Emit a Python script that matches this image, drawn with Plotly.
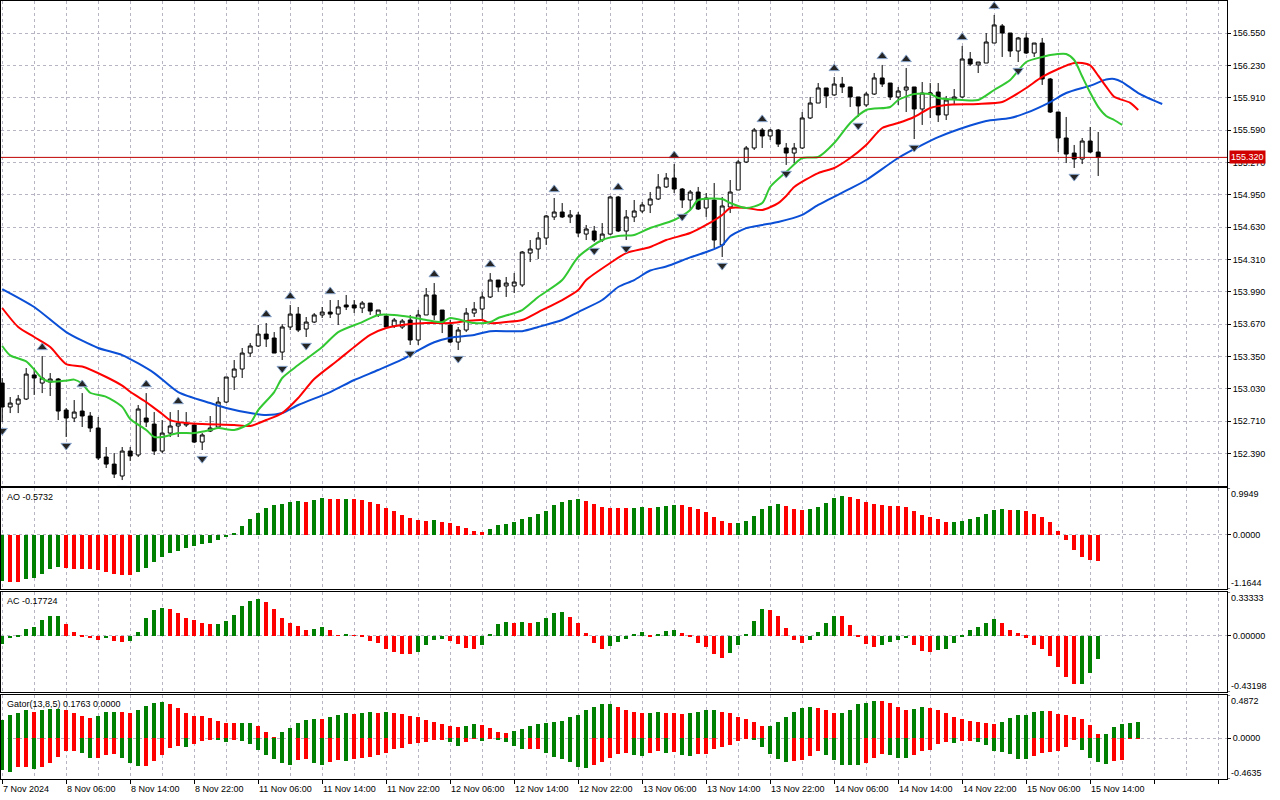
import plotly.graph_objects as go

# USDJPY-style H1 chart, bars from 7 Nov 22:00 to 15 Nov 15:00 (weekend skipped)
opens = [
    153.086, 152.849, 152.878, 152.928, 153.166, 153.086, 153.096, 153.126, 152.819, 152.740,
    152.809, 152.760, 152.641, 152.354, 152.284, 152.166, 152.413, 152.374, 152.740, 152.680,
    152.413, 152.591, 152.661, 152.671, 152.671, 152.502, 152.611, 152.651, 152.898, 153.146,
    153.225, 153.383, 153.453, 153.571, 153.532, 153.393, 153.641, 153.769, 153.621, 153.690,
    153.760, 153.789, 153.769, 153.859, 153.859, 153.829, 153.878, 153.760, 153.750, 153.651,
    153.641, 153.710, 153.512, 153.760, 153.958, 153.809, 153.661, 153.492, 153.611, 153.779,
    153.819, 153.938, 154.106, 154.047, 154.047, 154.057, 154.373, 154.413, 154.522, 154.730,
    154.779, 154.730, 154.750, 154.561, 154.591, 154.502, 154.561, 154.928, 154.591, 154.730,
    154.789, 154.849, 154.908, 155.027, 155.116, 155.007, 154.898, 154.977, 154.819, 154.898,
    154.453, 154.829, 154.997, 155.274, 155.413, 155.591, 155.532, 155.591, 155.413, 155.363,
    155.413, 155.710, 155.858, 156.007, 155.938, 156.046, 156.017, 155.918, 155.839, 155.947,
    156.106, 156.056, 155.918, 155.987, 156.017, 155.799, 155.947, 155.967, 155.740, 155.898,
    155.918, 156.294, 156.235, 156.254, 156.452, 156.621, 156.551, 156.373, 156.502, 156.353,
    156.452, 156.096, 155.769, 155.512, 155.363, 155.304, 155.482, 155.373,
]
highs = [
    153.136, 152.948, 152.968, 153.235, 153.235, 153.354, 153.185, 153.136, 152.839, 152.918,
    152.987, 152.799, 152.750, 152.453, 152.393, 152.453, 152.453, 152.869, 152.987, 152.799,
    152.720, 152.799, 152.819, 152.799, 152.690, 152.591, 152.760, 152.948, 153.146, 153.314,
    153.433, 153.482, 153.661, 153.680, 153.591, 153.670, 153.859, 153.839, 153.740, 153.779,
    153.839, 153.908, 153.908, 153.958, 153.908, 153.898, 153.878, 153.809, 153.760, 153.730,
    153.720, 153.760, 153.809, 154.027, 154.076, 153.809, 153.710, 153.641, 153.829, 153.888,
    153.987, 154.175, 154.106, 154.136, 154.175, 154.393, 154.502, 154.581, 154.750, 154.918,
    154.868, 154.799, 154.779, 154.651, 154.641, 154.670, 154.938, 154.938, 154.799, 154.898,
    154.878, 154.977, 155.155, 155.165, 155.254, 155.017, 154.997, 155.027, 154.967, 155.066,
    154.928, 155.096, 155.294, 155.433, 155.611, 155.611, 155.601, 155.601, 155.462, 155.462,
    155.769, 155.918, 156.056, 156.007, 156.116, 156.116, 156.017, 155.918, 155.967, 156.155,
    156.235, 156.056, 156.017, 156.205, 156.017, 156.066, 156.056, 156.056, 155.928, 155.997,
    156.423, 156.363, 156.264, 156.551, 156.730, 156.640, 156.551, 156.512, 156.551, 156.452,
    156.502, 156.106, 155.769, 155.720, 155.443, 155.512, 155.621, 155.571,
]
lows = [
    152.700, 152.789, 152.789, 152.918, 152.968, 152.987, 152.958, 152.720, 152.552, 152.700,
    152.651, 152.601, 152.324, 152.245, 152.146, 152.126, 152.314, 152.354, 152.651, 152.374,
    152.393, 152.552, 152.552, 152.651, 152.492, 152.423, 152.601, 152.651, 152.888, 153.017,
    153.136, 153.344, 153.443, 153.443, 153.383, 153.314, 153.611, 153.591, 153.542, 153.680,
    153.730, 153.730, 153.661, 153.809, 153.779, 153.779, 153.760, 153.740, 153.631, 153.631,
    153.621, 153.463, 153.463, 153.760, 153.710, 153.581, 153.482, 153.413, 153.591, 153.740,
    153.720, 153.928, 153.987, 153.938, 153.977, 154.037, 154.284, 154.314, 154.453, 154.700,
    154.720, 154.670, 154.532, 154.502, 154.482, 154.482, 154.552, 154.581, 154.502, 154.680,
    154.769, 154.769, 154.898, 155.017, 154.967, 154.819, 154.799, 154.799, 154.730, 154.423,
    154.334, 154.769, 154.997, 155.264, 155.393, 155.413, 155.492, 155.423, 155.245, 155.264,
    155.403, 155.700, 155.858, 155.809, 155.928, 155.957, 155.819, 155.720, 155.819, 155.938,
    156.017, 155.888, 155.839, 155.769, 155.502, 155.641, 155.710, 155.670, 155.690, 155.839,
    155.908, 156.225, 156.155, 156.254, 156.452, 156.314, 156.314, 156.264, 156.343, 156.314,
    156.037, 155.759, 155.373, 155.264, 155.215, 155.254, 155.363, 155.136,
]
closes = [
    152.849, 152.888, 152.928, 153.175, 153.136, 153.136, 153.126, 152.809, 152.740, 152.799,
    152.760, 152.641, 152.344, 152.284, 152.185, 152.413, 152.364, 152.829, 152.700, 152.413,
    152.591, 152.661, 152.690, 152.690, 152.502, 152.572, 152.641, 152.898, 153.146, 153.225,
    153.383, 153.453, 153.571, 153.522, 153.383, 153.641, 153.769, 153.611, 153.690, 153.760,
    153.789, 153.769, 153.839, 153.839, 153.829, 153.878, 153.799, 153.809, 153.641, 153.710,
    153.700, 153.512, 153.760, 153.958, 153.760, 153.680, 153.492, 153.611, 153.779, 153.819,
    153.938, 154.106, 154.037, 154.076, 154.086, 154.383, 154.413, 154.522, 154.740, 154.779,
    154.730, 154.750, 154.571, 154.611, 154.502, 154.561, 154.928, 154.591, 154.730, 154.789,
    154.849, 154.908, 155.027, 155.116, 155.007, 154.898, 154.977, 154.809, 154.918, 154.502,
    154.839, 154.977, 155.274, 155.413, 155.591, 155.532, 155.591, 155.452, 155.363, 155.413,
    155.710, 155.858, 156.007, 155.928, 156.046, 156.017, 155.918, 155.829, 155.947, 156.106,
    156.046, 155.918, 155.977, 156.017, 155.799, 155.957, 155.957, 155.740, 155.888, 155.918,
    156.294, 156.244, 156.264, 156.462, 156.631, 156.551, 156.373, 156.502, 156.353, 156.452,
    156.096, 155.769, 155.512, 155.353, 155.304, 155.482, 155.373, 155.320,
]
last_price = 155.320

# Bill Williams fractals (bar numbers)
up_fractals = [5, 10, 18, 22, 33, 36, 41, 54, 61, 69, 77, 84, 95, 104, 110, 113, 120, 124]
down_fractals = [0, 8, 15, 25, 35, 38, 51, 57, 74, 78, 85, 90, 98, 107, 114, 127, 134]

# Alligator lines (bar, price)
jaw_bars = [0, 4, 8, 12, 15, 19, 22, 26, 28, 31, 33, 35, 37, 41, 44, 47, 50, 52, 54, 56,
            59, 61, 65, 67, 70, 72, 75, 77, 79, 81, 83, 86, 88, 90, 91, 93, 95, 97, 100, 102,
            106, 108, 112, 115, 117, 121, 123, 126, 128, 131, 133, 136, 138, 139, 140, 142, 145]
jaw_vals = [154.017, 153.839, 153.591, 153.433, 153.363, 153.185, 152.997, 152.888, 152.839, 152.789,
            152.770, 152.789, 152.869, 152.997, 153.116, 153.215, 153.320, 153.410, 153.490, 153.535,
            153.562, 153.600, 153.600, 153.641, 153.710, 153.789, 153.908, 154.037, 154.106, 154.200,
            154.240, 154.330, 154.383, 154.450, 154.540, 154.620, 154.651, 154.680, 154.750, 154.849,
            155.010, 155.096, 155.314, 155.443, 155.520, 155.635, 155.680, 155.710, 155.760, 155.868,
            155.957, 156.030, 156.090, 156.096, 156.066, 155.957, 155.848]
teeth_bars = [0, 2, 4, 6, 8, 10, 13, 15, 16, 18, 20, 21, 23, 25, 29, 31, 33, 35, 37, 39,
              42, 44, 46, 48, 51, 53, 56, 58, 60, 61, 63, 65, 67, 70, 72, 73, 76, 78, 81, 83,
              86, 88, 90, 91, 93, 95, 97, 98, 99, 102, 104, 106, 108, 110, 112, 114, 116, 118, 122, 125,
              126, 128, 130, 132, 134, 135, 136, 137, 138, 139, 141, 142]
teeth_vals = [153.829, 153.641, 153.542, 153.443, 153.274, 153.250, 153.146, 153.060, 153.000, 152.898,
              152.780, 152.720, 152.690, 152.680, 152.671, 152.661, 152.720, 152.789, 152.938, 153.126,
              153.314, 153.443, 153.562, 153.631, 153.670, 153.680, 153.680, 153.700, 153.710, 153.680,
              153.690, 153.710, 153.789, 153.908, 154.007, 154.106, 154.274, 154.373, 154.433, 154.502,
              154.571, 154.651, 154.750, 154.819, 154.819, 154.799, 154.868, 154.938, 155.027, 155.165,
              155.215, 155.314, 155.443, 155.611, 155.660, 155.720, 155.809, 155.839, 155.848, 155.868,
              155.908, 156.007, 156.116, 156.195, 156.254, 156.254, 156.230, 156.130, 156.020, 155.920,
              155.860, 155.789]
lips_bars = [0, 1, 3, 4, 5, 6, 8, 9, 10, 11, 13, 15, 16, 18, 19, 20, 22, 24, 26, 27,
             29, 31, 32, 34, 35, 37, 40, 42, 45, 47, 49, 51, 53, 55, 56, 59, 61, 62, 65, 67,
             70, 72, 75, 77, 79, 81, 84, 86, 87, 90, 91, 93, 95, 96, 98, 100, 102, 104, 106, 108,
             111, 112, 114, 116, 117, 120, 122, 124, 126, 128, 130, 131, 133, 134, 135, 136, 137, 138, 139, 140]
lips_vals = [153.453, 153.360, 153.300, 153.220, 153.130, 153.100, 153.110, 153.120, 153.080, 152.990,
             152.950, 152.850, 152.730, 152.621, 152.552, 152.552, 152.591, 152.591, 152.621, 152.641,
             152.621, 152.690, 152.819, 152.997, 153.136, 153.264, 153.443, 153.591, 153.690, 153.760,
             153.760, 153.740, 153.710, 153.690, 153.730, 153.680, 153.690, 153.730, 153.809, 153.938,
             154.106, 154.334, 154.502, 154.542, 154.552, 154.621, 154.700, 154.799, 154.898, 154.908,
             154.868, 154.819, 154.868, 155.027, 155.175, 155.314, 155.324, 155.462, 155.660, 155.789,
             155.819, 155.888, 155.947, 155.947, 155.908, 155.888, 155.888, 155.987, 156.086, 156.264,
             156.314, 156.333, 156.343, 156.284, 156.120, 155.960, 155.820, 155.730, 155.690, 155.641]

ao = [
    -0.994, -1.008, -1.010, -0.943, -0.922, -0.835, -0.742, -0.684, -0.706, -0.727,
    -0.742, -0.745, -0.763, -0.792, -0.835, -0.871, -0.874, -0.799, -0.706, -0.583,
    -0.490, -0.403, -0.346, -0.295, -0.252, -0.209, -0.180, -0.115, -0.058, 0.043,
    0.180, 0.338, 0.454, 0.562, 0.626, 0.648, 0.698, 0.713, 0.705, 0.734,
    0.778, 0.770, 0.756, 0.765, 0.756, 0.734, 0.698, 0.648, 0.562, 0.504,
    0.414, 0.345, 0.310, 0.288, 0.310, 0.266, 0.245, 0.180, 0.137, 0.072,
    0.050, 0.115, 0.202, 0.223, 0.266, 0.331, 0.374, 0.439, 0.504, 0.634,
    0.698, 0.742, 0.763, 0.720, 0.655, 0.590, 0.569, 0.568, 0.567, 0.570,
    0.590, 0.569, 0.590, 0.612, 0.634, 0.632, 0.590, 0.547, 0.482, 0.374,
    0.288, 0.245, 0.250, 0.288, 0.396, 0.547, 0.612, 0.655, 0.612, 0.547,
    0.526, 0.547, 0.590, 0.677, 0.785, 0.828, 0.806, 0.763, 0.698, 0.655,
    0.634, 0.612, 0.610, 0.590, 0.504, 0.418, 0.374, 0.331, 0.266, 0.270,
    0.288, 0.331, 0.374, 0.439, 0.526, 0.540, 0.518, 0.520, 0.497, 0.432,
    0.367, 0.259, 0.086, -0.108, -0.324, -0.480, -0.540, -0.5732,
]
ac = [
    -0.064, -0.021, -0.005, 0.054, 0.062, 0.116, 0.147, 0.150, 0.085, 0.031,
    -0.013, -0.021, -0.031, -0.021, -0.044, -0.052, -0.039, 0.031, 0.131, 0.193,
    0.209, 0.201, 0.170, 0.131, 0.116, 0.100, 0.085, 0.087, 0.108, 0.155,
    0.224, 0.263, 0.278, 0.255, 0.201, 0.131, 0.100, 0.070, 0.039, 0.054,
    0.062, 0.039, 0.003, 0.015, -0.003, -0.013, -0.039, -0.059, -0.100, -0.124,
    -0.142, -0.144, -0.126, -0.075, -0.036, -0.028, -0.044, -0.064, -0.098, -0.106,
    -0.075, 0.010, 0.088, 0.103, 0.095, 0.103, 0.095, 0.103, 0.134, 0.173,
    0.180, 0.142, 0.095, 0.018, -0.059, -0.106, -0.082, -0.052, -0.028, 0.010,
    0.026, -0.005, 0.010, 0.034, 0.041, 0.018, -0.013, -0.059, -0.090, -0.144,
    -0.175, -0.137, -0.075, 0.010, 0.111, 0.204, 0.196, 0.149, 0.057, -0.036,
    -0.059, -0.036, 0.026, 0.095, 0.149, 0.148, 0.080, -0.013, -0.067, -0.090,
    -0.075, -0.052, -0.036, -0.021, -0.075, -0.121, -0.129, -0.113, -0.106, -0.059,
    -0.013, 0.041, 0.064, 0.095, 0.126, 0.100, 0.046, 0.021, -0.015, -0.072,
    -0.103, -0.157, -0.242, -0.320, -0.374, -0.372, -0.289, -0.17724,
]
gator_up = [
    0.202, 0.259, 0.289, 0.316, 0.300, 0.323, 0.324, 0.325, 0.323, 0.289,
    0.255, 0.232, 0.247, 0.293, 0.300, 0.299, 0.278, 0.316, 0.361, 0.392,
    0.407, 0.380, 0.335, 0.278, 0.255, 0.247, 0.224, 0.198, 0.167, 0.166,
    0.168, 0.169, 0.133, 0.065, 0.008, 0.072, 0.118, 0.175, 0.209, 0.221,
    0.220, 0.243, 0.266, 0.278, 0.277, 0.289, 0.290, 0.289, 0.290, 0.278,
    0.274, 0.255, 0.243, 0.209, 0.186, 0.164, 0.141, 0.129, 0.141, 0.164,
    0.152, 0.118, 0.072, 0.061, 0.084, 0.106, 0.141, 0.164, 0.175, 0.186,
    0.198, 0.243, 0.266, 0.312, 0.357, 0.380, 0.381, 0.357, 0.323, 0.300,
    0.278, 0.289, 0.300, 0.289, 0.278, 0.276, 0.280, 0.300, 0.312, 0.323,
    0.300, 0.278, 0.243, 0.221, 0.186, 0.141, 0.142, 0.186, 0.243, 0.300,
    0.335, 0.346, 0.335, 0.312, 0.278, 0.289, 0.323, 0.380, 0.392, 0.415,
    0.414, 0.392, 0.357, 0.323, 0.325, 0.346, 0.345, 0.312, 0.289, 0.243,
    0.221, 0.198, 0.186, 0.175, 0.164, 0.183, 0.228, 0.259, 0.266, 0.297,
    0.308, 0.307, 0.274, 0.262, 0.240, 0.217, 0.148, 0.046, 0.047, 0.125,
    0.160, 0.171, 0.1763,
]
gator_down = [
    -0.361, -0.380, -0.331, -0.323, -0.350, -0.331, -0.278, -0.209, -0.152, -0.141,
    -0.164, -0.221, -0.220, -0.186, -0.185, -0.221, -0.278, -0.312, -0.311, -0.255,
    -0.186, -0.118, -0.095, -0.103, -0.068, -0.038, -0.015, -0.027, -0.049, -0.015,
    -0.038, -0.072, -0.133, -0.186, -0.232, -0.278, -0.300, -0.243, -0.242, -0.278,
    -0.300, -0.266, -0.243, -0.255, -0.232, -0.221, -0.209, -0.186, -0.164, -0.129,
    -0.110, -0.072, -0.061, -0.049, -0.027, -0.015, -0.049, -0.095, -0.049, -0.002,
    -0.038, -0.001, -0.027, -0.049, -0.095, -0.129, -0.128, -0.127, -0.164, -0.209,
    -0.232, -0.266, -0.323, -0.335, -0.300, -0.266, -0.221, -0.175, -0.164, -0.186,
    -0.198, -0.164, -0.152, -0.164, -0.163, -0.186, -0.198, -0.180, -0.175, -0.129,
    -0.106, -0.084, -0.038, -0.004, -0.027, -0.106, -0.175, -0.232, -0.266, -0.265,
    -0.243, -0.198, -0.152, -0.186, -0.243, -0.300, -0.301, -0.302, -0.278, -0.221,
    -0.175, -0.186, -0.221, -0.224, -0.186, -0.152, -0.133, -0.072, -0.049, -0.053,
    -0.038, -0.034, -0.049, -0.084, -0.152, -0.156, -0.175, -0.236, -0.240, -0.205,
    -0.171, -0.160, -0.148, -0.103, -0.011, -0.137, -0.228, -0.274, -0.297, -0.262,
    -0.251, -0.006, -0.004,
]

x_labels = ["7 Nov 2024", "8 Nov 06:00", "8 Nov 14:00", "8 Nov 22:00", "11 Nov 06:00",
            "11 Nov 14:00", "11 Nov 22:00", "12 Nov 06:00", "12 Nov 14:00", "12 Nov 22:00",
            "13 Nov 06:00", "13 Nov 14:00", "13 Nov 22:00", "14 Nov 06:00", "14 Nov 14:00",
            "14 Nov 22:00", "15 Nov 06:00", "15 Nov 14:00"]
price_ticks = [152.390, 152.710, 153.030, 153.350, 153.670, 153.990, 154.310,
               154.630, 154.950, 155.270, 155.590, 155.910, 156.230, 156.550]
price_range = [152.067, 156.868]
ao_range = [-1.1644, 0.9949]
ac_range = [-0.43198, 0.33333]
gator_range = [-0.4635, 0.4872]

GREEN = "#008000"
RED = "#ff0000"
GRID = "#b8b4c4"
FONT = "Liberation Sans"
FRACTAL_GAP = 0.085


def up_down(vals, key=lambda v: v):
    cols = [GREEN]
    for a, b in zip(vals[:-1], vals[1:]):
        cols.append(GREEN if key(b) > key(a) else RED)
    return cols


bars = list(range(len(opens)))
fig = go.Figure()

fig.add_trace(go.Candlestick(
    x=bars, open=opens, high=highs, low=lows, close=closes,
    increasing=dict(line=dict(color="black", width=1), fillcolor="white"),
    decreasing=dict(line=dict(color="black", width=1), fillcolor="black"),
    whiskerwidth=0, xaxis="x", yaxis="y", hoverinfo="skip"))

for bx, vals, col in [(jaw_bars, jaw_vals, "#0a4fd6"),
                      (teeth_bars, teeth_vals, "#ff0000"),
                      (lips_bars, lips_vals, "#32c832")]:
    fig.add_trace(go.Scatter(x=bx, y=vals, mode="lines", xaxis="x", yaxis="y",
                             line=dict(color=col, width=2, shape="spline", smoothing=0.7),
                             hoverinfo="skip"))

fig.add_trace(go.Scatter(
    x=up_fractals, y=[highs[i] + FRACTAL_GAP for i in up_fractals], mode="markers",
    marker=dict(symbol="triangle-up", size=9, color="#252525", line=dict(color="#8aa6cc", width=1)),
    xaxis="x", yaxis="y", hoverinfo="skip"))
fig.add_trace(go.Scatter(
    x=down_fractals, y=[lows[i] - FRACTAL_GAP for i in down_fractals], mode="markers",
    marker=dict(symbol="triangle-down", size=9, color="#252525", line=dict(color="#8aa6cc", width=1)),
    xaxis="x", yaxis="y", hoverinfo="skip"))

fig.add_trace(go.Bar(x=list(range(len(ao))), y=ao, width=0.5, xaxis="x2", yaxis="y2",
                     marker=dict(color=up_down(ao), line_width=0), hoverinfo="skip"))
fig.add_trace(go.Bar(x=list(range(len(ac))), y=ac, width=0.5, xaxis="x3", yaxis="y3",
                     marker=dict(color=up_down(ac), line_width=0), hoverinfo="skip"))
fig.add_trace(go.Bar(x=list(range(len(gator_up))), y=gator_up, width=0.5, xaxis="x4", yaxis="y4",
                     marker=dict(color=up_down(gator_up), line_width=0), hoverinfo="skip"))
fig.add_trace(go.Bar(x=list(range(len(gator_down))), y=gator_down, width=0.5, xaxis="x4", yaxis="y4",
                     marker=dict(color=up_down(gator_down, key=abs), line_width=0), hoverinfo="skip"))

x_range = [-0.15, 153.1]
xbase = dict(range=x_range, showline=True, mirror=True, linecolor="black", linewidth=1,
             tickmode="linear", tick0=0, dtick=8, showticklabels=False, ticks="",
             showgrid=True, gridcolor=GRID, griddash="3px,3px", gridwidth=1, zeroline=False,
             minor=dict(tick0=0, dtick=4, showgrid=True, gridcolor=GRID, griddash="3px,3px",
                        gridwidth=1, ticks=""),
             rangeslider=dict(visible=False), fixedrange=True)
ybase = dict(side="right", showline=True, mirror=True, linecolor="black", linewidth=1,
             ticks="outside", ticklen=3, tickcolor="black", showgrid=True, gridcolor=GRID,
             griddash="3px,3px", gridwidth=1, zeroline=False, fixedrange=True,
             tickfont=dict(family=FONT, size=9, color="black"))


def zero_tick(fmt):
    return dict(tickmode="array", tickvals=[0.0], ticktext=[fmt.format(0.0)])


fig.update_layout(
    width=1280, height=800, paper_bgcolor="white", plot_bgcolor="white",
    margin=dict(l=1, r=53, t=1, b=21, autoexpand=False), showlegend=False,
    barmode="overlay", bargap=0,
    xaxis=dict(xbase, anchor="y"),
    xaxis2=dict(xbase, anchor="y2", matches="x"),
    xaxis3=dict(xbase, anchor="y3", matches="x"),
    xaxis4=dict(xbase, anchor="y4", matches="x", ticks="outside", ticklen=4, tickcolor="black"),
    yaxis=dict(ybase, domain=[0.3766, 1.0], range=price_range, tickmode="array",
               tickvals=price_ticks, ticktext=["{:.3f}".format(v) for v in price_ticks], anchor="x"),
    yaxis2=dict(ybase, domain=[0.2442, 0.3740], range=ao_range, anchor="x2", **zero_tick("{:.4f}")),
    yaxis3=dict(ybase, domain=[0.1118, 0.2404], range=ac_range, anchor="x3", **zero_tick("{:.5f}")),
    yaxis4=dict(ybase, domain=[0.0, 0.1080], range=gator_range, anchor="x4", **zero_tick("{:.4f}")),
)

# panel scale limits: tick at the edge, label tucked inside the panel like the terminal
for yref, rng, fmt in [("y2", ao_range, "{:.4f}"), ("y3", ac_range, "{:.5f}"),
                       ("y4", gator_range, "{:.4f}")]:
    for val, anchor in [(rng[1], "top"), (rng[0], "bottom")]:
        fig.add_shape(type="line", xref="paper", x0=1, x1=1.0025, yref=yref, y0=val, y1=val,
                      line=dict(color="black", width=1))
        fig.add_annotation(xref="paper", x=1, xanchor="left", xshift=3, yref=yref, y=val,
                           yanchor=anchor, text=fmt.format(val), showarrow=False,
                           borderpad=0, font=dict(family=FONT, size=9, color="black"))

# current price line and its red tag
fig.add_shape(type="line", xref="paper", x0=0, x1=1, yref="y", y0=last_price, y1=last_price,
              line=dict(color="#c00000", width=1))
fig.add_annotation(xref="paper", x=1, xanchor="left", xshift=2, yref="y", y=last_price,
                   text="{:.3f}".format(last_price), showarrow=False, bgcolor="#d00000",
                   borderpad=1, font=dict(family=FONT, size=9, color="white"))

# indicator captions
for yref_top, txt in [(0.3740, "AO {:.4f}".format(ao[-1])),
                      (0.2404, "AC {:.5f}".format(ac[-1])),
                      (0.1080, "Gator(13,8,5) {:.4f} {:.4f}".format(gator_up[-1], 0.0))]:
    fig.add_annotation(xref="paper", x=0, xanchor="left", xshift=4, yref="paper", y=yref_top,
                       yanchor="top", yshift=-2, text=txt, showarrow=False,
                       font=dict(family=FONT, size=9, color="black"))

# time labels, left-aligned at their ticks like the terminal does
for k, lab in enumerate(x_labels):
    fig.add_annotation(xref="x4", x=8 * k, xanchor="left", xshift=-1, yref="paper", y=0,
                       yanchor="top", yshift=-3, text=lab, showarrow=False,
                       font=dict(family=FONT, size=9, color="black"))

fig.write_html("out.html", config={"displayModeBar": False},
               post_script="document.body.style.margin='0px';")
